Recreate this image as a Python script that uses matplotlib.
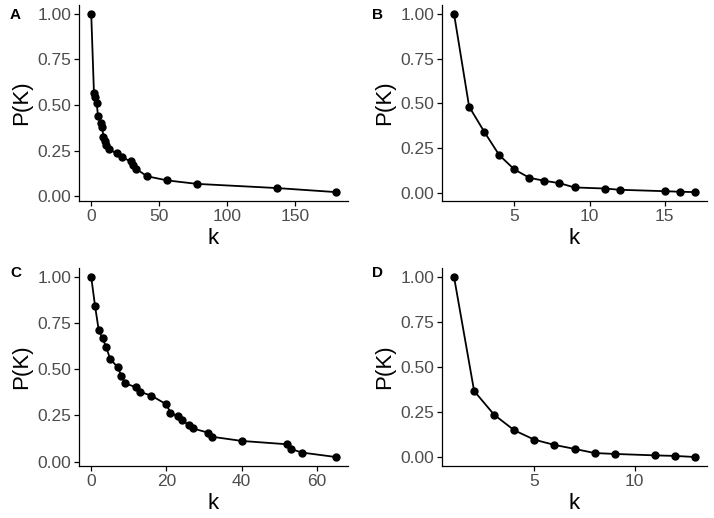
import matplotlib.pyplot as plt

plt.rcParams['font.family'] = ['Liberation Sans', 'DejaVu Sans']

# Panel A
k_a = [0, 2, 3, 4, 5, 7, 8, 9, 10, 11, 13, 19, 23, 29, 31, 33, 41, 56, 78, 137, 180]
p_a = [1.00, 0.568, 0.545, 0.511, 0.440, 0.402, 0.382, 0.322, 0.302, 0.283, 0.256,
       0.234, 0.213, 0.190, 0.168, 0.150, 0.109, 0.086, 0.067, 0.044, 0.022]

# Panel B
k_b = [1, 2, 3, 4, 5, 6, 7, 8, 9, 11, 12, 15, 16, 17]
p_b = [1.00, 0.482, 0.342, 0.211, 0.131, 0.084, 0.067, 0.054, 0.030, 0.024,
       0.017, 0.009, 0.006, 0.004]

# Panel C
k_c = [0, 1, 2, 3, 4, 5, 7, 8, 9, 12, 13, 16, 20, 21, 23, 24, 26, 27, 31, 32,
       40, 52, 53, 56, 65]
p_c = [1.00, 0.845, 0.711, 0.667, 0.620, 0.557, 0.512, 0.466, 0.424, 0.402,
       0.378, 0.357, 0.310, 0.266, 0.245, 0.223, 0.200, 0.180, 0.157, 0.135,
       0.112, 0.094, 0.069, 0.049, 0.025]

# Panel D
k_d = [1, 2, 3, 4, 5, 6, 7, 8, 9, 11, 12, 13]
p_d = [1.00, 0.368, 0.236, 0.150, 0.098, 0.069, 0.047, 0.024, 0.019, 0.011,
       0.008, 0.002]

letters = ['A', 'B', 'C', 'D']
xticks = [[0, 50, 100, 150], [5, 10, 15], [0, 20, 40, 60], [5, 10]]
yticks = [0, 0.25, 0.5, 0.75, 1.0]

W, H = 714, 518
fig = plt.figure(figsize=(W / 100, H / 100), dpi=100)

# axes boxes in pixels: left, top, right, bottom
boxes = [(79, 5, 348, 201), (442, 5, 707, 201),
         (79, 268, 348, 466), (442, 268, 707, 466)]
data = [(k_a, p_a), (k_b, p_b), (k_c, p_c), (k_d, p_d)]
label_pos = [(10, 15), (372, 15), (10, 273), (372, 273)]

for (l, t, r, b), (k, p), xt, let, (lx, ly) in zip(boxes, data, xticks, letters, label_pos):
    ax = fig.add_axes([l / W, 1 - b / H, (r - l) / W, (b - t) / H])
    ax.plot(k, p, color='black', lw=1.3, marker='o', ms=5)
    ax.set_xticks(xt)
    ax.set_yticks(yticks)
    ax.set_yticklabels(['0.00', '0.25', '0.50', '0.75', '1.00'])
    ax.spines['top'].set_visible(False)
    ax.spines['right'].set_visible(False)
    for s in ['left', 'bottom']:
        ax.spines[s].set_linewidth(0.9)
    ax.tick_params(length=3.5, width=0.9, labelsize=12.5, labelcolor='#4D4D4D', pad=2)
    ax.set_xlabel('k', fontsize=16, labelpad=3)
    ax.set_ylabel('P(K)', fontsize=16, labelpad=4)
    fig.text(lx / W, 1 - ly / H, let, fontsize=11, fontweight='bold', va='center', ha='left')

fig.savefig('out.png', dpi=100)
